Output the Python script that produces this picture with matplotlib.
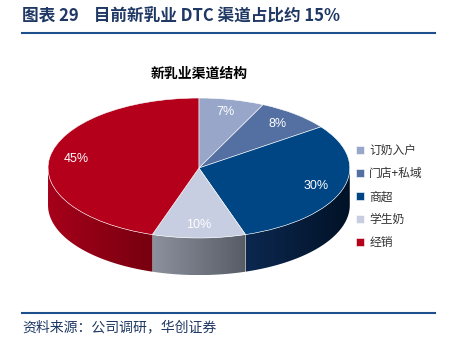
import matplotlib
matplotlib.use("Agg")
import matplotlib.pyplot as plt
import numpy as np
from matplotlib.lines import Line2D
from matplotlib.patches import Polygon
from matplotlib.colors import LinearSegmentedColormap

plt.rcParams['font.family'] = ['Noto Sans CJK SC', 'DejaVu Sans']

# Data
channels = ['订奶入户', '门店+私域', '商超', '学生奶', '经销']
shares = [7, 8, 30, 10, 45]
top_colors = ['#97a6c9', '#546fa1', '#004684', '#c8cee1', '#b4001b']
# side wall gradient (left -> right as seen)
side_colors = [('#6f7ea3', '#5a6890'), ('#3d5586', '#2d4470'),
               ('#0c2850', '#011226'), ('#8d919d', '#585c67'),
               ('#a6001a', '#76000f')]

title = '图表 29    目前新乳业 DTC 渠道占比约 15%'
subtitle = '新乳业渠道结构'
source = '资料来源：公司调研，华创证券'

fig = plt.figure(figsize=(4.5, 3.56), dpi=100)
ax = fig.add_axes([0.1, 0.2135, 0.684, 0.521])

depth = 0.53

# side walls (front half of the disc), drawn from the slice angles
bounds = 90 - 360 * np.concatenate([[0], np.cumsum(shares)]) / sum(shares)
for i in range(len(shares)):
    a0, a1 = bounds[i], bounds[i + 1]   # a0 > a1 (clockwise)
    lo, hi = max(a1, -180), min(a0, 0)
    if lo >= hi:
        continue
    ts = np.radians(np.linspace(lo, hi, 100))
    xs = np.concatenate([np.cos(ts), np.cos(ts[::-1])])
    ys = np.concatenate([np.sin(ts), np.sin(ts[::-1]) - depth])
    poly = Polygon(np.column_stack([xs, ys]), closed=True, fc='none', ec='none')
    ax.add_patch(poly)
    cmap = LinearSegmentedColormap.from_list(f's{i}', side_colors[i])
    grad = np.linspace(0, 1, 256).reshape(1, -1)
    im = ax.imshow(grad, cmap=cmap, aspect='auto', zorder=1,
                   extent=[xs.min(), xs.max(), ys.min(), ys.max()],
                   interpolation='bilinear')
    im.set_clip_path(poly)

wedges, texts, autotexts = ax.pie(
    shares, colors=top_colors, startangle=90, counterclock=False,
    autopct=lambda p: f'{p:.0f}%', pctdistance=0.82,
    wedgeprops=dict(edgecolor='white', linewidth=0.4),
    textprops=dict(color='white', fontsize=9, family=['Liberation Sans']))
for w in wedges:
    w.set_zorder(2)
for t in autotexts:
    t.set_zorder(3)

ax.set_aspect('auto')
ax.set_xlim(-1.02, 1.02)
ax.set_ylim(-1.6, 1.05)
ax.axis('off')

fig.legend(wedges, channels, loc='upper left', bbox_to_anchor=(0.768, 0.625),
           frameon=False, fontsize=8.5, handlelength=0.7, handleheight=0.7,
           handletextpad=0.4, labelspacing=0.85, labelcolor='#333333')

fig.text(0.048, 0.955, title, fontsize=12, fontweight='bold', color='#1f3864',
         va='center', ha='left')
fig.add_artist(Line2D([0.048, 0.967], [0.908, 0.908], color='#1f4e8c', lw=1.5))
fig.text(0.442, 0.792, subtitle, fontsize=10, fontweight='bold', color='black',
         ha='center', va='center')
fig.add_artist(Line2D([0.048, 0.967], [0.121, 0.121], color='#1f4e8c', lw=1.5))
fig.text(0.05, 0.08, source, fontsize=10, color='#1f3864', va='center', ha='left')

fig.savefig('out.png', dpi=100)
